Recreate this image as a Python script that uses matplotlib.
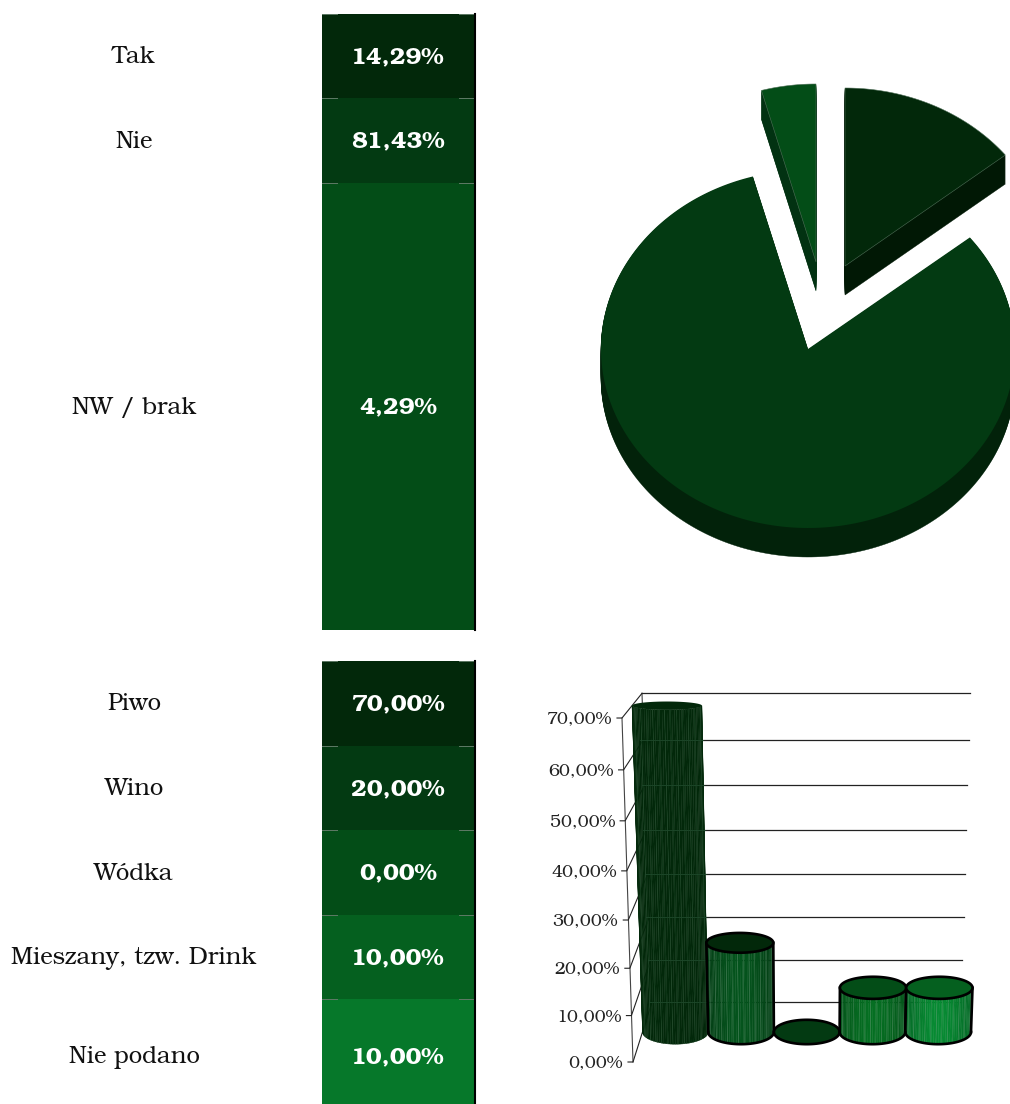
import numpy as np
import matplotlib
matplotlib.use("Agg")
import matplotlib.pyplot as plt
from matplotlib.patches import Polygon, Rectangle

# ---------- data ----------
answer_labels = ["Tak", "Nie", "NW / brak"]
answer_values = [14.29, 81.43, 4.29]
drink_labels = ["Piwo", "Wino", "Wódka", "Mieszany, tzw. Drink", "Nie podano"]
drink_values = [70.0, 20.0, 0.0, 10.0, 10.0]
axis_ticks = [0, 10, 20, 30, 40, 50, 60, 70]

# ---------- style / layout ----------
FONT = ["TeX Gyre Bonum", "DejaVu Serif", "DejaVu Sans"]
plt.rcParams["font.family"] = FONT
SHADES = ["#02280A", "#033A12", "#034D17", "#05601F", "#06782A"]
PIE_SIDES = ["#011805", "#02220A", "#023212"]
BODY = ["#02280A", "#044C1A", "#033A12", "#05651F", "#067E2E"]
TOPS = ["#02280A", "#02280A", "#033A12", "#034D17", "#05601F"]
TABLE_L, TABLE_R = 322, 474
LABEL_X = 134
T1_EDGES = [14, 98, 183, 630]
T2_EDGES = [661, 746, 830, 915, 999, 1113]
PIE_RADII = [(205, 178), (207, 179), (205, 178)]
PIE_DEPTH = 29
PIE_VERTS = [(845, 266), (808, 349), (816, 262)]

fig = plt.figure(figsize=(10.10, 11.04), dpi=100, facecolor="white")
ax = fig.add_axes([0, 0, 1, 1])
ax.set_xlim(0, 1010)
ax.set_ylim(1104, 0)
ax.axis("off")


def pct(v):
    return f"{v:.2f}".replace(".", ",") + "%"


def table(labels, values, edges):
    for i, (lab, val) in enumerate(zip(labels, values)):
        y0, y1 = edges[i], edges[i + 1]
        ax.add_patch(Rectangle((TABLE_L, y0), TABLE_R - TABLE_L, y1 - y0,
                               fc=SHADES[i], ec="none", zorder=2))
        ym = (y0 + y1) / 2
        ax.text(LABEL_X, ym + 7, lab, family=FONT, fontsize=17.2, color="#111111",
                ha="center", va="baseline")
        ax.text(398, ym + 7, pct(val), family=FONT, fontsize=17.2, fontweight="bold",
                color="white", ha="center", va="baseline", zorder=4)
        for a, b in ((TABLE_L, TABLE_L + 15), (TABLE_R - 15, TABLE_R)):
            ax.plot([a, b], [y0, y0], color="#5f7a66", lw=0.7, zorder=3)
    ax.plot([TABLE_R + 0.5] * 2, [edges[0], edges[-1]], color="black", lw=1.5, zorder=3)


table(answer_labels, answer_values, T1_EDGES)
table(drink_labels, drink_values, T2_EDGES)

# ---------- exploded pie ----------
fracs = np.array(answer_values) / sum(answer_values)
starts = np.concatenate([[0], np.cumsum(fracs)[:-1]]) * 2 * np.pi
ends = np.cumsum(fracs) * 2 * np.pi


def wedge(cx, cy, a, b, rx, ry):
    t = np.linspace(a, b, 240)
    xs = cx + rx * np.sin(t)
    ys = cy - ry * np.cos(t)
    return np.column_stack([np.r_[cx, xs], np.r_[cy, ys]])


for i in range(3):
    cx, cy = PIE_VERTS[i]
    rx, ry = PIE_RADII[i]
    for d in range(1, PIE_DEPTH + 1):
        ax.add_patch(Polygon(wedge(cx, cy + d, starts[i], ends[i], rx, ry),
                             fc=PIE_SIDES[i], ec=PIE_SIDES[i], lw=0.3, zorder=2))
    ax.add_patch(Polygon(wedge(cx, cy, starts[i], ends[i], rx, ry),
                         fc=SHADES[i], ec="#4f6f58" if i != 1 else "none", lw=0.4, zorder=3))


# ---------- pseudo-3D cylinder chart ----------
def front_y(v):
    return 1062 - 4.597 * v - 0.00453 * v ** 2


def back_y(v):
    return 1002 - 4.16 * v - 0.00357 * v ** 2


def front_x(v):
    return 633 - 11 * v / 70


def back_l(v):
    return 652 - 10 * v / 70


def back_r(v):
    return 961 + 9 * v / 70


line = "#222222"
ax.plot([front_x(0), front_x(70)], [front_y(0), front_y(70)], color="#444444", lw=0.8, zorder=2)
ax.plot([back_l(0), back_l(70)], [back_y(0), back_y(70)], color="#444444", lw=0.8, zorder=2)
for v in axis_ticks:
    fx, fy = front_x(v), front_y(v)
    ax.plot([fx - 5, fx, back_l(v)], [fy, fy, back_y(v)], color=line, lw=0.8, zorder=2)
    ax.plot([back_l(v), back_r(v)], [back_y(v)] * 2, color=line, lw=0.9, zorder=2)
    ax.text(fx - 10, fy + 5, pct(v), family=FONT, fontsize=12.7, color="#222222",
            ha="right", va="baseline")


def mid_y(v):
    return (front_y(v) + back_y(v)) / 2


def col_x(i, u, v):
    left = 642.5 - 0.15 * v
    width = 328.5 + 0.3 * v
    return left + (i + u) / len(drink_values) * width


def ell_ry(v):
    return 12.2 - 0.115 * v


def lighten(c, k):
    rgb = np.array(matplotlib.colors.to_rgb(c))
    return tuple(np.clip(rgb * k, 0, 1))


for i, v in enumerate(drink_values):
    z = 5 + i
    lw = 0.0 if i == 0 else 1.9
    theta = np.linspace(0, np.pi, 80)
    us = 0.5 - 0.5 * np.cos(theta)
    y_top, y_bot = mid_y(v), mid_y(0)
    ry_top, ry_bot = ell_ry(v), ell_ry(0)

    if v > 0:
        n = 44
        uu = 0.5 - 0.5 * np.cos(np.linspace(0, np.pi, n + 1))
        for j in range(n):
            u0, u1 = uu[j], uu[j + 1]
            s0 = np.sqrt(max(0, u0 * (1 - u0))) * 2
            s1 = np.sqrt(max(0, u1 * (1 - u1))) * 2
            k = 0.85 + 0.25 * (0.5 * (s0 + s1)) ** 3
            colr = lighten(BODY[i], k if i else 1.0)
            ax.add_patch(Polygon([(col_x(i, u0, 0), y_bot + ry_bot * s0),
                                  (col_x(i, u1, 0), y_bot + ry_bot * s1),
                                  (col_x(i, u1, v), y_top + ry_top * s1),
                                  (col_x(i, u0, v), y_top + ry_top * s0)],
                                 fc=colr, ec=colr, lw=0.3, zorder=z))
        for u in np.arange(0.04, 1.0, 0.085):
            s = np.sqrt(u * (1 - u)) * 2
            ax.plot([col_x(i, u, 0), col_x(i, u, v)],
                    [y_bot + ry_bot * s, y_top + ry_top * s],
                    color="#6f9a7c" if i else "#3f6f4c", lw=0.45,
                    alpha=0.5 if i else 0.4, zorder=z)
        if i > 0:
            xl = [col_x(i, 0, v), col_x(i, 0, 0)]
            xr = [col_x(i, 1, v), col_x(i, 1, 0)]
            ax.plot(xl, [y_top, y_bot], color="black", lw=lw, zorder=z + 0.1)
            ax.plot(xr, [y_top, y_bot], color="black", lw=lw, zorder=z + 0.1)
            bx = [col_x(i, u, 0) for u in us]
            by = y_bot + ry_bot * np.sin(theta)
            ax.plot(bx, by, color="black", lw=lw, zorder=z + 0.1)

    t = np.linspace(0, 2 * np.pi, 160)
    u_e = 0.5 - 0.5 * np.cos(t)
    ex = [col_x(i, u, v) for u in u_e]
    ey = y_top + ry_top * np.sin(t)
    ax.add_patch(Polygon(np.column_stack([ex, ey]), fc=TOPS[i],
                         ec="black" if i > 0 else "none", lw=lw, zorder=z + 0.2))

for v in axis_ticks[:-1]:
    ax.plot([back_l(v) - 3, col_x(0, 1, v)], [back_y(v)] * 2,
            color="#1f4a2c", lw=0.6, zorder=5.5)

fig.savefig("out.png", dpi=100, facecolor="white")
